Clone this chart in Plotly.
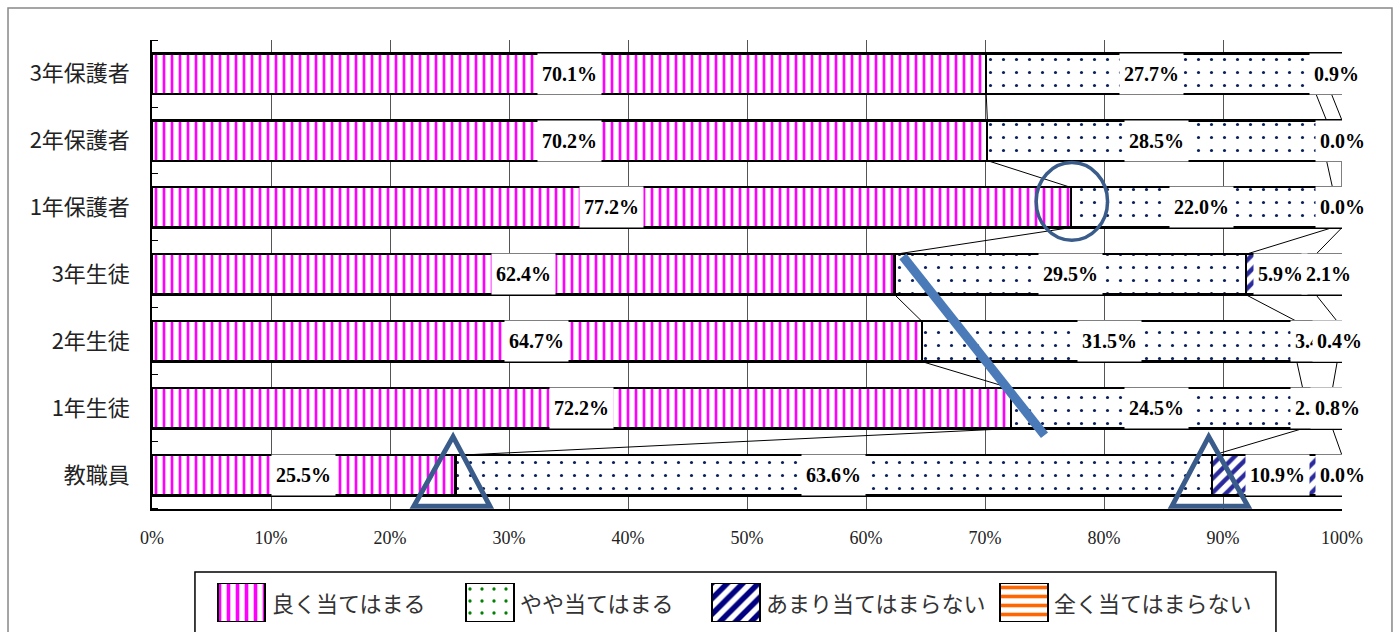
import plotly.graph_objects as go

# ---- data -------------------------------------------------------------
categories = ["3年保護者", "2年保護者", "1年保護者", "3年生徒", "2年生徒", "1年生徒", "教職員"]
series_names = ["良く当てはまる", "やや当てはまる", "あまり当てはまらない", "全く当てはまらない"]
very_true = [70.1, 70.2, 77.2, 62.4, 64.7, 72.2, 25.5]
somewhat_true = [27.7, 28.5, 22.0, 29.5, 31.5, 24.5, 63.6]
not_very_true = [1.3, 1.3, 0.8, 5.9, 3.4, 2.5, 10.9]
not_at_all_true = [0.9, 0.0, 0.0, 2.1, 0.4, 0.8, 0.0]
x_tick_values = [0, 10, 20, 30, 40, 50, 60, 70, 80, 90, 100]
x_tick_labels = [f"{v}%" for v in x_tick_values]

series_values = [very_true, somewhat_true, not_very_true, not_at_all_true]

# ---- styles -----------------------------------------------------------
bar_patterns = [
    dict(shape="|", fgcolor="#FF00FF", bgcolor="white", size=8, solidity=0.33, fgopacity=1),
    dict(shape=".", fgcolor="#0A1F5C", bgcolor="white", size=13, solidity=0.045, fgopacity=1),
    dict(shape="/", fgcolor="#2A2A9C", bgcolor="white", size=10, solidity=0.45, fgopacity=1),
    dict(shape="-", fgcolor="#FF6600", bgcolor="white", size=8, solidity=0.35, fgopacity=1),
]
legend_patterns = [
    dict(shape="|", fgcolor="#FF00FF", bgcolor="white", size=9, solidity=0.4, fgopacity=1),
    dict(shape=".", fgcolor="#008000", bgcolor="white", size=12, solidity=0.06, fgopacity=1),
    dict(shape="/", fgcolor="#000080", bgcolor="white", size=11, solidity=0.5, fgopacity=1),
    dict(shape="-", fgcolor="#FF6600", bgcolor="white", size=9, solidity=0.4, fgopacity=1),
]
BAR_WIDTH = 0.6
LABEL_FONT = dict(family="Liberation Serif", size=20, color="black", weight="bold")
CJK_FONT = "Noto Sans CJK JP"
# inner segments narrower than this have their labels covered by the next one
MIN_INNER_LABEL = 2.0

rows = list(range(len(categories)))

fig = go.Figure()

# stacked horizontal bars
for name, values, pattern in zip(series_names, series_values, bar_patterns):
    fig.add_trace(go.Bar(
        y=rows, x=values, orientation="h", name=name, width=BAR_WIDTH,
        marker=dict(color="white", pattern=pattern, line=dict(color="black", width=2.2)),
        hoverinfo="skip", showlegend=False,
    ))

# cumulative segment ends per row
cum = []
for r in rows:
    acc, ends = 0.0, []
    for values in series_values:
        acc += values[r]
        ends.append(acc)
    cum.append(ends)

# series lines joining segment boundaries of neighbouring bars
lx, ly = [], []
half = BAR_WIDTH / 2
for r in rows[:-1]:
    for k in range(len(series_values) - 1):
        lx += [cum[r][k], cum[r + 1][k], None]
        ly += [r + half, r + 1 - half, None]
fig.add_trace(go.Scatter(x=lx, y=ly, mode="lines", line=dict(color="black", width=1),
                         hoverinfo="skip", showlegend=False))

# value labels centred on each segment
annotations = []
last = len(series_values) - 1
for k, values in enumerate(series_values):
    for r in rows:
        if 0 < k < last and values[r] < MIN_INNER_LABEL:
            continue
        start = cum[r][k] - values[r]
        annotations.append(dict(
            x=start + values[r] / 2, y=r, xref="x", yref="y",
            text=f"{values[r]:.1f}%", showarrow=False, font=LABEL_FONT,
            bgcolor="white", borderpad=4, height=32,
        ))

# legend drawn as its own small panel below the chart
legend_slots = [7.52, 28.4, 49.08, 73.28]
legend_swatch_width = 4.03
for name, slot, pattern in zip(series_names, legend_slots, legend_patterns):
    fig.add_trace(go.Bar(
        x=[slot], y=[1], base=[0], width=[legend_swatch_width], xaxis="x2", yaxis="y2",
        marker=dict(color="white", pattern=pattern, line=dict(color="black", width=2)),
        hoverinfo="skip", showlegend=False,
    ))
    annotations.append(dict(
        x=slot + legend_swatch_width / 2 + 0.35, y=0.5, xref="x2", yref="y2",
        xanchor="left", yanchor="middle", text=name, showarrow=False,
        font=dict(family=CJK_FONT, size=22, color="#333333"),
    ))

# highlight marks
mark_color = "rgb(58,92,138)"
shapes = [
    dict(type="circle", xref="x", yref="y", x0=74.3, x1=80.3, y0=1.33, y1=2.49,
         line=dict(color=mark_color, width=3.5)),
    dict(type="path", xref="x", yref="y", path="M 22.0,6.46 L 25.3,5.42 L 28.4,6.46 Z",
         line=dict(color=mark_color, width=5)),
    dict(type="path", xref="x", yref="y", path="M 85.7,6.46 L 88.8,5.42 L 92.1,6.46 Z",
         line=dict(color=mark_color, width=5)),
    dict(type="line", xref="x", yref="y", x0=63.1, y0=2.73, x1=75.0, y1=5.40,
         line=dict(color="rgb(74,122,183)", width=9)),
    # legend frame
    dict(type="rect", xref="paper", yref="paper", x0=0.0361, x1=0.9445, y0=-0.05, y1=0.1014,
         line=dict(color="black", width=1.5), layer="below"),
    # chart frame
    dict(type="rect", xref="paper", yref="paper", x0=-0.121, x1=1.042, y0=-0.05, y1=1.054,
         line=dict(color="#888888", width=1.5), layer="below"),
]

fig.update_layout(
    width=1400, height=632,
    margin=dict(l=152, r=58, t=40, b=0),
    paper_bgcolor="white", plot_bgcolor="white",
    barmode="stack", bargap=0.4,
    font=dict(family="Liberation Serif", color="#222222"),
    annotations=annotations, shapes=shapes,
    xaxis=dict(
        range=[0, 100], tickmode="array", tickvals=x_tick_values, ticktext=x_tick_labels,
        showgrid=True, gridcolor="#555555", gridwidth=1,
        showline=True, linecolor="black", linewidth=1.5,
        ticks="", ticklabelstandoff=12, zeroline=False,
        tickfont=dict(family="Liberation Serif", size=18, color="#222222"),
        anchor="y", fixedrange=True,
    ),
    yaxis=dict(
        range=[6.5, -0.5], domain=[0.2078, 1.0],
        tickmode="array", tickvals=rows, ticktext=categories, ticks="",
        showline=True, linecolor="black", linewidth=1.5, showgrid=False, zeroline=False,
        minor=dict(tickvals=[r - 0.5 for r in range(len(categories) + 1)], ticks="inside",
                   ticklen=6, tickcolor="black", tickwidth=1, showgrid=False),
        ticklabelstandoff=16,
        tickfont=dict(family=CJK_FONT, size=22, color="#222222"),
        anchor="x", fixedrange=True,
    ),
    xaxis2=dict(range=[0, 100], domain=[0, 1], anchor="y2", visible=False, fixedrange=True),
    yaxis2=dict(range=[0, 1], domain=[0.0169, 0.0828], anchor="x2", visible=False, fixedrange=True),
)

fig.write_html("out.html")
